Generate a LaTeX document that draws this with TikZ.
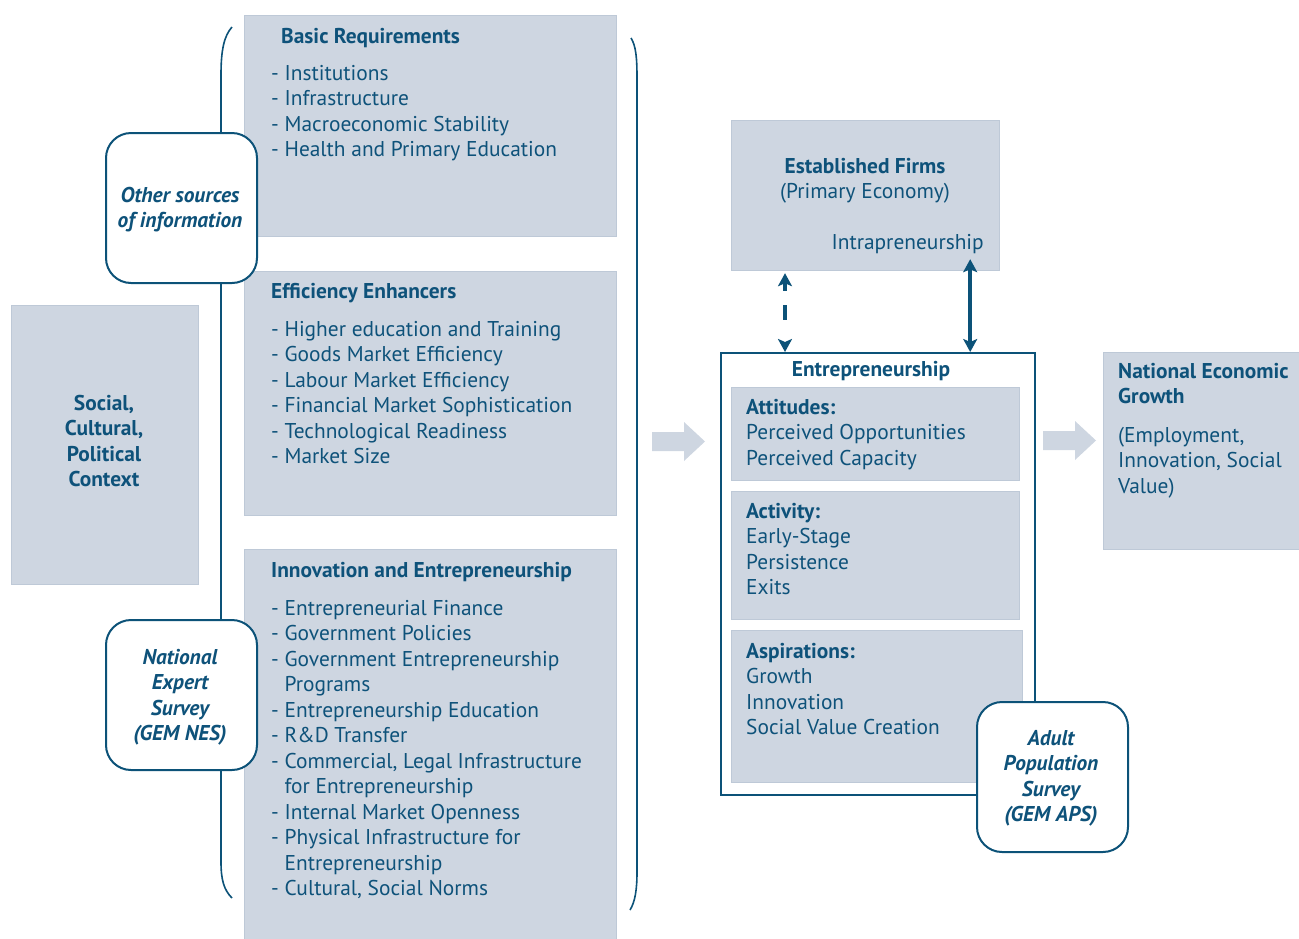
\documentclass[tikz,border=0pt]{standalone}
\usepackage{fontspec}
\setmainfont{PT Sans}
\usetikzlibrary{arrows.meta,calc}
\definecolor{txtc}{RGB}{14,82,122}
\definecolor{boxfill}{RGB}{206,214,225}
\definecolor{boxline}{RGB}{190,201,215}
\definecolor{linec}{RGB}{12,82,120}
\newcommand\bodyfont{\fontsize{21.4}{25.5}\selectfont}
\begin{document}
\begin{tikzpicture}[x=1pt,y=-1pt,
  graybox/.style={fill=boxfill, draw=boxline, line width=1.2pt, anchor=north west, inner sep=0pt},
  survey/.style={fill=white, draw=linec, line width=2pt, rounded corners=25pt, anchor=north west, inner sep=0pt, minimum width=151pt, minimum height=150pt},
  txt/.style={inner sep=0pt, align=left, text=txtc, font=\bodyfont, anchor=north west, yshift=17.85pt},
  ctxt/.style={txt, align=center, anchor=north},
  dblarrow/.style={draw=linec, line width=4pt, {Stealth[length=13pt,width=14pt,inset=3pt]}-{Stealth[length=13pt,width=14pt,inset=3pt]}},
  bracket/.style={draw=linec, line width=1.6pt},
  blockarrow/.style={fill=boxfill}
]
\path[use as bounding box] (0,0) rectangle (1299,938);

% brackets
\draw[bracket] (232,27) .. controls (224,36) and (221,50) .. (221,75) -- (221,862) .. controls (221,880) and (224,890) .. (232,898);
\draw[bracket] (631,38) .. controls (636,46) and (637,58) .. (637,78) -- (637,872) .. controls (637,890) and (635,902) .. (630,910);

% left column boxes
\node[graybox, minimum width=372pt, minimum height=221pt] (basic) at (244,15) {};
\node[graybox, minimum width=372pt, minimum height=244pt] (eff) at (244,271) {};
\node[graybox, minimum width=372pt, minimum height=395pt] (inno) at (244,549) {};
\node[graybox, minimum width=187pt, minimum height=279pt] (soc) at (11,305) {};

\node[txt, font=\bodyfont\bfseries] (tbasic) at (281,43) {\strut Basic Requirements};
\node[txt] (lbasic) at (271,80) {\strut - Institutions\\- Infrastructure\\- Macroeconomic Stability\\- Health and Primary Education};

\node[txt, font=\bodyfont\bfseries] (teff) at (271,298) {\strut Efficiency Enhancers};
\node[txt] (leff) at (271,336) {\strut - Higher education and Training\\- Goods Market Efficiency\\- Labour Market Efficiency\\- Financial Market Sophistication\\- Technological Readiness\\- Market Size};

\node[txt, font=\bodyfont\bfseries] (tinno) at (271,577) {\strut Innovation and Entrepreneurship};
\node[txt] (linno) at (271,615) {\strut - Entrepreneurial Finance\\- Government Policies\\- Government Entrepreneurship\\\hphantom{- }Programs\\- Entrepreneurship Education\\- R\&D Transfer\\- Commercial, Legal Infrastructure\\\hphantom{- }for Entrepreneurship\\- Internal Market Openness\\- Physical Infrastructure for\\\hphantom{- }Entrepreneurship\\- Cultural, Social Norms};

\node[ctxt, font=\bodyfont\bfseries] (tsoc) at (104,410) {\strut Social,\\Cultural,\\Political\\Context};

% survey boxes (left)
\node[survey] (other) at (105,132) {};
\node[ctxt, font=\bodyfont\bfseries\itshape] (tother) at (180,202) {\strut Other sources\\of information};
\node[survey] (nes) at (105,619) {};
\node[ctxt, font=\bodyfont\bfseries\itshape] (tnes) at (180,664) {\strut National\\Expert\\Survey\\(GEM NES)};

% block arrows
\fill[blockarrow] (652,432) -- (684,432) -- (684,422) -- (705,441.5) -- (684,461) -- (684,451) -- (652,451) -- cycle;
\fill[blockarrow] (1043,431) -- (1075,431) -- (1075,421) -- (1096,440.5) -- (1075,460) -- (1075,450) -- (1043,450) -- cycle;

% established firms
\node[graybox, minimum width=268pt, minimum height=150pt] (est) at (731,120) {};
\node[ctxt] (test) at (865,173) {\strut{\bfseries Established Firms}\\(Primary Economy)};
\node[txt, anchor=north east] (tintra) at (984,249) {\strut Intrapreneurship};

% entrepreneurship
\node[draw=linec, line width=2pt, fill=white, anchor=north west, inner sep=0pt, minimum width=314pt, minimum height=442pt] (ent) at (720,352) {};
\node[ctxt, font=\bodyfont\bfseries] (tent) at (871,376) {\strut Entrepreneurship};
\node[graybox, minimum width=288pt, minimum height=93pt] (att) at (731,387) {};
\node[graybox, minimum width=288pt, minimum height=128pt] (act) at (731,491) {};
\node[graybox, minimum width=291pt, minimum height=152pt] (asp) at (731,630) {};
\node[txt] (tatt) at (746,414) {\strut{\bfseries Attitudes:}\\Perceived Opportunities\\Perceived Capacity};
\node[txt] (tact) at (746,518) {\strut{\bfseries Activity:}\\Early-Stage\\Persistence\\Exits};
\node[txt] (tasp) at (746,658) {\strut{\bfseries Aspirations:}\\Growth\\Innovation\\Social Value Creation};

\node[survey] (aps) at (976,701) {};
\node[ctxt, font=\bodyfont\bfseries\itshape] (taps) at (1051,745) {\strut Adult\\Population\\Survey\\(GEM APS)};

% national economic growth
\node[graybox, minimum width=200pt, minimum height=197pt] (neg) at (1103,352) {};
\node[txt, font=\bodyfont\bfseries] (tneg) at (1118,378) {\strut National Economic\\Growth};
\node[txt] (lneg) at (1118,442) {\strut(Employment,\\Innovation, Social\\Value)};

% double arrows
\coordinate (d1) at ([xshift=54pt,yshift=-2pt]est.south west);
\coordinate (d2) at (d1 |- ent.north);
\draw[dblarrow, dash pattern=on 9pt off 14pt on 15pt off 40pt] (d1) -- (d2);
\coordinate (s1) at ([xshift=-30pt,yshift=12pt]est.south east);
\coordinate (s2) at (s1 |- ent.north);
\draw[dblarrow] (s1) -- (s2);
\end{tikzpicture}
\end{document}
